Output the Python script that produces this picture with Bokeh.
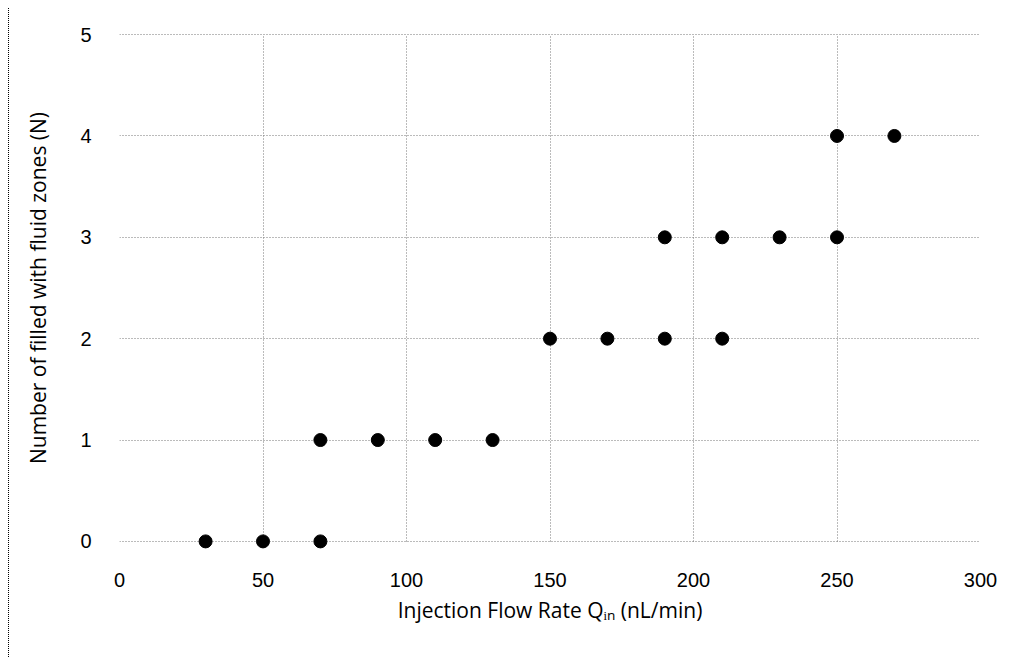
from bokeh.plotting import figure
from bokeh.models import Range1d, FixedTicker
from bokeh.embed import file_html
from bokeh.resources import INLINE

flow_rate = [30, 50, 70, 70, 90, 110, 130, 150, 170, 190, 190, 210, 210, 230, 250, 250, 270]
zones = [0, 0, 0, 1, 1, 1, 1, 2, 2, 2, 3, 2, 3, 3, 3, 4, 4]
x_ticks = [0, 50, 100, 150, 200, 250, 300]
y_ticks = [0, 1, 2, 3, 4, 5]

p = figure(width=1004, height=649, output_backend="svg", toolbar_location=None,
           x_range=Range1d(0, 300), y_range=Range1d(-0.08, 5.08),
           min_border_left=110, min_border_right=33, min_border_top=18, min_border_bottom=108)
p.styles = {"border-left": "1px dotted black", "margin-left": "8px", "margin-top": "8px"}
p.outline_line_color = None
p.background_fill_color = "white"
p.border_fill_color = "white"

for ax in (p.xaxis[0], p.yaxis[0]):
    ax.axis_line_color = None
    ax.major_tick_line_color = None
    ax.minor_tick_line_color = None
    ax.major_label_text_font = "Liberation Sans"
    ax.major_label_text_font_size = "20px"
    ax.major_label_text_color = "black"
    ax.axis_label_text_font = "Open Sans"
    ax.axis_label_text_font_size = "21px"
    ax.axis_label_text_font_style = "normal"
    ax.axis_label_text_color = "black"

p.xaxis.ticker = FixedTicker(ticks=x_ticks)
p.yaxis.ticker = FixedTicker(ticks=y_ticks)
p.xaxis.major_label_standoff = 17
p.yaxis.major_label_standoff = 22
p.xaxis.axis_label = "Injection Flow Rate Qᵢₙ (nL/min)"
p.yaxis.axis_label = "Number of filled with fluid zones (N)"
p.xaxis.axis_label_standoff = 6
p.yaxis.axis_label_standoff = 25

for g in (p.xgrid[0], p.ygrid[0]):
    g.grid_line_color = "#777777"
    g.grid_line_dash = "1 2"
    g.grid_line_width = 1
p.xgrid[0].cross_bounds = (0, 5)
p.ygrid[0].cross_bounds = (0, 300)

p.scatter(flow_rate, zones, size=13, color="black")

open("out.html", "w").write(file_html(p, INLINE))
